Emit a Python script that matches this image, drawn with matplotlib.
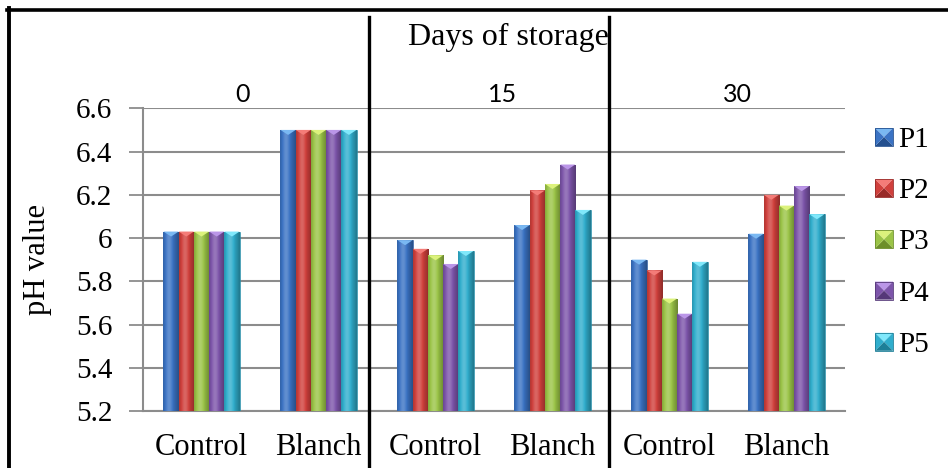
import numpy as np
import matplotlib
matplotlib.use("Agg")
import matplotlib.pyplot as plt
from matplotlib.lines import Line2D
from matplotlib.patches import Polygon, Rectangle
from matplotlib.colors import to_rgb

SERIF = ['Liberation Serif', 'DejaVu Serif']
plt.rcParams['font.family'] = SERIF
plt.rcParams['font.serif'] = ['Liberation Serif', 'DejaVu Serif']

# ---- data ----
days = ["0", "15", "30"]
categories = ["Control", "Blanch", "Control", "Blanch", "Control", "Blanch"]
series = ["P1", "P2", "P3", "P4", "P5"]
p1 = [6.03, 6.50, 5.99, 6.06, 5.90, 6.02]
p2 = [6.03, 6.50, 5.95, 6.22, 5.85, 6.20]
p3 = [6.03, 6.50, 5.92, 6.25, 5.72, 6.15]
p4 = [6.03, 6.50, 5.88, 6.34, 5.65, 6.24]
p5 = [6.03, 6.50, 5.94, 6.13, 5.89, 6.11]
yticks = [5.2, 5.4, 5.6, 5.8, 6.0, 6.2, 6.4, 6.6]
ytick_labels = ["5.2", "5.4", "5.6", "5.8", "6", "6.2", "6.4", "6.6"]

values = [p1, p2, p3, p4, p5]
base_colors = ["#3b73c4", "#d0403c", "#9bc447", "#7d55aa", "#30aecd"]
light_colors = ["#7ab8f2", "#f47c78", "#dcf27c", "#bb96e8", "#80e8fb"]
dark_colors = ["#24508f", "#992a28", "#6d8f2a", "#553878", "#1d7f98"]

W, H = 948, 468
fig = plt.figure(figsize=(W / 100, H / 100), dpi=100)
ax = fig.add_axes([143 / W, 1 - 411 / H, (845 - 143) / W, (411 - 108.3) / H])

ymin, ymax = 5.2, 6.6
ax.set_xlim(-0.5, len(categories) - 0.5)
ax.set_ylim(ymin, ymax)

grid_c = "#8c8c8c"
ax.set_yticks(yticks)
ax.set_yticklabels(ytick_labels, fontsize=21, family=SERIF)
ax.yaxis.grid(True, color=grid_c, lw=1.5)
ax.set_axisbelow(True)
ax.set_xticks(np.arange(len(categories)))
ax.set_xticklabels(categories, fontsize=22, family=SERIF)
ax.tick_params(axis='x', length=0, pad=16)
ax.tick_params(axis='y', length=10, width=1.3, color=grid_c, pad=12)
for s in ["top", "right"]:
    ax.spines[s].set_visible(False)
ax.spines["left"].set_color(grid_c)
ax.spines["left"].set_linewidth(1.5)
ax.spines["bottom"].set_color(grid_c)
ax.spines["bottom"].set_linewidth(1.5)
ax.set_ylabel("pH value", fontsize=22, family=SERIF)
ax.yaxis.set_label_coords(-0.13, 0.5)


def shade(color, f):
    c = np.array(to_rgb(color))
    if f >= 1:
        return c + (1 - c) * (f - 1)
    return c * f


# horizontal shading profile across each bar (edges darker, a lighter band left of centre)
t = np.linspace(0, 1, 40)
profile = 0.80 + 0.40 * np.exp(-((t - 0.38) / 0.28) ** 2) - 0.10 * np.exp(-((t - 1.0) / 0.12) ** 2)

n = len(series)
bw = 0.13
x = np.arange(len(categories))
depth = 5.0 / (411 - 108.3) * (ymax - ymin)   # depth of the bevel cap in data units

for i, (vals, bc, lc, dc) in enumerate(zip(values, base_colors, light_colors, dark_colors)):
    offs = (i - (n - 1) / 2) * bw
    heights = np.array(vals) - ymin
    bars = ax.bar(x + offs, heights, width=bw, bottom=ymin, color=bc,
                  edgecolor=dc, linewidth=0.4, zorder=3, label=series[i])
    grad = np.array([[shade(bc, f) for f in profile]])
    for b in bars:
        bx, by, bwid, bh = b.get_x(), b.get_y(), b.get_width(), b.get_height()
        im = ax.imshow(grad, extent=(bx, bx + bwid, by, by + bh), aspect='auto',
                       interpolation='bilinear', zorder=3.5)
        im.set_clip_path(b)
        top = by + bh
        ax.add_patch(Polygon([(bx, top), (bx + bwid, top), (bx + bwid / 2, top - depth)],
                             closed=True, facecolor=lc, edgecolor='none', zorder=4))

ax.set_xlim(-0.5, len(categories) - 0.5)
ax.set_ylim(ymin, ymax)

# day labels above each pair of groups
for lab, px in zip(days, [242, 503, 737]):
    fig.text(px / W, 1 - 94 / H, lab, fontsize=18, family=['Lato', 'DejaVu Sans'],
             ha='center', va='center')

fig.text(508 / W, 1 - 45 / H, "Days of storage", fontsize=23, family=SERIF,
         ha='center', va='baseline')

# table-style frame lines
fig.add_artist(Line2D([7 / W, 1.0], [1 - 9.5 / H] * 2, transform=fig.transFigure,
                      color='black', lw=2.6))
fig.add_artist(Line2D([9 / W] * 2, [1 - 8 / H, 0], transform=fig.transFigure,
                      color='black', lw=2.8))
for px in [369, 609]:
    fig.add_artist(Line2D([px / W] * 2, [1 - 17 / H, 0], transform=fig.transFigure,
                          color='black', lw=2.4))


def P(px, py):
    return (px / W, 1 - py / H)


# legend with bevelled square markers
sq = 18
for i, (lab, bc, lc, dc) in enumerate(zip(series, base_colors, light_colors, dark_colors)):
    cy = 137 + i * 51.2
    x0, y0 = 875, cy - sq / 2
    cx, cyy = x0 + sq / 2, y0 + sq / 2
    tl, tr, br, bl = P(x0, y0), P(x0 + sq, y0), P(x0 + sq, y0 + sq), P(x0, y0 + sq)
    c = P(cx, cyy)
    for pts, col in [([tl, tr, c], lc), ([tr, br, c], bc), ([br, bl, c], dc), ([bl, tl, c], bc)]:
        fig.add_artist(Polygon(pts, closed=True, facecolor=col, edgecolor='none',
                               transform=fig.transFigure))
    fig.add_artist(Rectangle(bl, sq / W, sq / H, fill=False,
                             edgecolor=dc, lw=0.6, transform=fig.transFigure))
    fig.text(898 / W, 1 - cy / H, lab, fontsize=21, family=SERIF,
             ha='left', va='center_baseline')

fig.savefig("out.png", dpi=100)
